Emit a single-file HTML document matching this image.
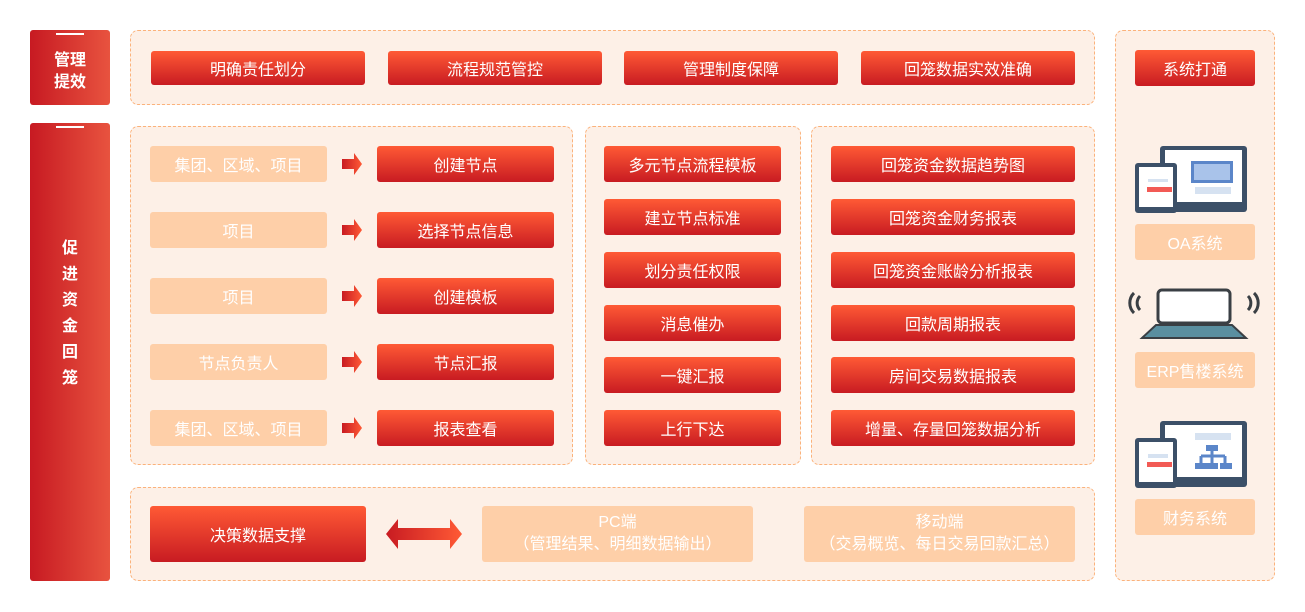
<!DOCTYPE html>
<html><head><meta charset="utf-8"><style>
*{margin:0;padding:0;box-sizing:border-box}
body{width:1305px;height:612px;background:#fff;position:relative;overflow:hidden;font-family:"Liberation Sans","Noto Sans CJK SC",sans-serif}
.a{position:absolute}
.side{background:linear-gradient(90deg,#c71a22,#e8533f);border-radius:3px;color:#fff;font-size:16px;font-weight:bold;text-align:center}
.side:before{content:"";position:absolute;left:26px;top:3px;width:28px;height:2px;background:#fff}
.panel{background:#fdf0e7;border:1px dashed #fbb27b;border-radius:8px}
.r{background:linear-gradient(180deg,#ff5a35,#c81b22);border-radius:3px;color:#fff;font-size:16px;display:flex;align-items:center;justify-content:center}
.l{background:#fecfa8;border-radius:3px;color:#fff;font-size:16px;display:flex;align-items:center;justify-content:center;text-align:center}
.l2{line-height:22px}
</style></head><body>
<div class="a side" style="left:30px;top:30px;width:80px;height:75px;padding-top:20px;line-height:22px">管理<br>提效</div>
<div class="a side" style="left:30px;top:123px;width:80px;height:458px;padding-top:113px;line-height:26px">促<br>进<br>资<br>金<br>回<br>笼</div>

<div class="a panel" style="left:130px;top:30px;width:965px;height:75px"></div>
<div class="a r" style="left:151px;top:51px;width:214px;height:34px">明确责任划分</div>
<div class="a r" style="left:388px;top:51px;width:214px;height:34px">流程规范管控</div>
<div class="a r" style="left:624px;top:51px;width:214px;height:34px">管理制度保障</div>
<div class="a r" style="left:861px;top:51px;width:214px;height:34px">回笼数据实效准确</div>

<div class="a panel" style="left:1115px;top:30px;width:160px;height:551px"></div>
<div class="a r" style="left:1135px;top:50px;width:120px;height:36px">系统打通</div>

<div class="a panel" style="left:130px;top:126px;width:443px;height:339px"></div>
<div class="a panel" style="left:585px;top:126px;width:216px;height:339px"></div>
<div class="a panel" style="left:811px;top:126px;width:284px;height:339px"></div>

<div class="a l" style="left:150px;top:146px;width:177px;height:36px">集团、区域、项目</div>
<div class="a l" style="left:150px;top:212px;width:177px;height:36px">项目</div>
<div class="a l" style="left:150px;top:278px;width:177px;height:36px">项目</div>
<div class="a l" style="left:150px;top:344px;width:177px;height:36px">节点负责人</div>
<div class="a l" style="left:150px;top:410px;width:177px;height:36px">集团、区域、项目</div>

<svg class="a" style="left:341px;top:146px" width="22" height="300">
<defs><linearGradient id="g" x1="0" x2="1"><stop offset="0" stop-color="#c81b22"/><stop offset="1" stop-color="#ff5a35"/></linearGradient></defs>
<g fill="url(#g)">
<path d="M1 13h12v-6l8 11-8 11v-6H1z"/>
<path d="M1 79h12v-6l8 11-8 11v-6H1z"/>
<path d="M1 145h12v-6l8 11-8 11v-6H1z"/>
<path d="M1 211h12v-6l8 11-8 11v-6H1z"/>
<path d="M1 277h12v-6l8 11-8 11v-6H1z"/>
</g></svg>

<div class="a r" style="left:377px;top:146px;width:177px;height:36px">创建节点</div>
<div class="a r" style="left:377px;top:212px;width:177px;height:36px">选择节点信息</div>
<div class="a r" style="left:377px;top:278px;width:177px;height:36px">创建模板</div>
<div class="a r" style="left:377px;top:344px;width:177px;height:36px">节点汇报</div>
<div class="a r" style="left:377px;top:410px;width:177px;height:36px">报表查看</div>

<div class="a r" style="left:604px;top:146px;width:177px;height:36px">多元节点流程模板</div>
<div class="a r" style="left:604px;top:199px;width:177px;height:36px">建立节点标准</div>
<div class="a r" style="left:604px;top:252px;width:177px;height:36px">划分责任权限</div>
<div class="a r" style="left:604px;top:305px;width:177px;height:36px">消息催办</div>
<div class="a r" style="left:604px;top:357px;width:177px;height:36px">一键汇报</div>
<div class="a r" style="left:604px;top:410px;width:177px;height:36px">上行下达</div>

<div class="a r" style="left:831px;top:146px;width:244px;height:36px">回笼资金数据趋势图</div>
<div class="a r" style="left:831px;top:199px;width:244px;height:36px">回笼资金财务报表</div>
<div class="a r" style="left:831px;top:252px;width:244px;height:36px">回笼资金账龄分析报表</div>
<div class="a r" style="left:831px;top:305px;width:244px;height:36px">回款周期报表</div>
<div class="a r" style="left:831px;top:357px;width:244px;height:36px">房间交易数据报表</div>
<div class="a r" style="left:831px;top:410px;width:244px;height:36px">增量、存量回笼数据分析</div>

<div class="a panel" style="left:130px;top:487px;width:965px;height:94px"></div>
<div class="a r" style="left:150px;top:506px;width:216px;height:56px">决策数据支撑</div>
<svg class="a" style="left:385px;top:518px" width="78" height="32"><path d="M1 16L13 1v9h52V1l12 15-12 15v-9H13v9z" fill="url(#g)"/></svg>
<div class="a l l2" style="left:482px;top:506px;width:271px;height:56px">PC端<br>（管理结果、明细数据输出）</div>
<div class="a l l2" style="left:804px;top:506px;width:271px;height:56px">移动端<br>（交易概览、每日交易回款汇总）</div>

<svg class="a" style="left:1135px;top:145px" width="115" height="68">
<rect x="25" y="1" width="87" height="66" rx="3" fill="#3c5068"/><rect x="30" y="5" width="77" height="52" fill="#fff"/>
<rect x="56" y="16" width="42" height="22" fill="#5b86c9"/><rect x="59" y="19" width="36" height="16" fill="#a9c3ea"/>
<rect x="60" y="42" width="36" height="7" fill="#d6e2f1"/>
<rect x="0" y="18" width="42" height="50" rx="3" fill="#3c5068"/><rect x="4" y="22" width="34" height="40" fill="#fff"/>
<rect x="13" y="34" width="20" height="3" fill="#d6e2f1"/><rect x="12" y="42" width="25" height="5" fill="#f25a55"/>
</svg>
<div class="a l" style="left:1135px;top:224px;width:120px;height:36px">OA系统</div>

<svg class="a" style="left:1128px;top:288px" width="132" height="52">
<rect x="30" y="2" width="72" height="33" rx="4" fill="#fff" stroke="#3a3f44" stroke-width="3"/>
<path d="M14 50L28 37h76l14 13z" fill="#5a8fa0" stroke="#3a3f44" stroke-width="2"/>
<path d="M12 8a10 10 0 0 0 0 14M6 5a14 14 0 0 0 0 20M120 8a10 10 0 0 1 0 14M126 5a14 14 0 0 1 0 20" stroke="#3a3f44" stroke-width="3" fill="none"/>
</svg>
<div class="a l" style="left:1135px;top:352px;width:120px;height:36px">ERP售楼系统</div>

<svg class="a" style="left:1135px;top:420px" width="115" height="68">
<rect x="25" y="1" width="87" height="66" rx="3" fill="#3c5068"/><rect x="30" y="5" width="77" height="52" fill="#fff"/>
<rect x="60" y="13" width="36" height="7" fill="#d6e2f1"/>
<path d="M77 28v8M66 36h24M66 36v8M77 36v8M90 36v8" stroke="#5b86c9" stroke-width="3"/>
<rect x="71" y="25" width="12" height="6" fill="#5b86c9"/><rect x="60" y="43" width="12" height="6" fill="#5b86c9"/><rect x="72" y="43" width="11" height="6" fill="#5b86c9"/><rect x="85" y="43" width="12" height="6" fill="#5b86c9"/>
<rect x="0" y="18" width="42" height="50" rx="3" fill="#3c5068"/><rect x="4" y="22" width="34" height="40" fill="#fff"/>
<rect x="13" y="34" width="20" height="4" fill="#d6e2f1"/><rect x="12" y="42" width="25" height="5" fill="#f25a55"/>
</svg>
<div class="a l" style="left:1135px;top:499px;width:120px;height:36px">财务系统</div>
</body></html>
